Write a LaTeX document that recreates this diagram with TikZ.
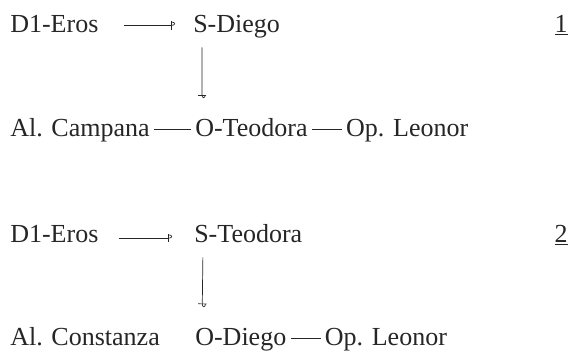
\documentclass[tikz,border=0pt]{standalone}
\usepackage{fontspec}
\setmainfont{Liberation Serif}
\usetikzlibrary{arrows.meta,positioning}

\tikzset{
  hk/.style={line width=0.5pt, draw=black!85,
    -{Bar[width=6pt,sep=0pt]Hooks[harpoon,length=2pt,width=5pt]}},
  emdash/.style={line width=0.9pt, draw=black!85, shorten <=0.1cm, shorten >=0.1cm}
}

\begin{document}
\begin{tikzpicture}[x=0.025cm,y=-0.025cm]
		\tikzset{every node/.style={inner sep=0pt, anchor=base west, text height=14pt, text depth=4.5pt, font=\fontsize{18.5}{22}\selectfont, text=black!85}}
\useasboundingbox (0,0) rectangle (570,350);

% first diagram
\node (d1) at (10,32) {D1-Eros};
\node (s1) at (193,32) {S-Diego};
\node[anchor=base east] (n1) at (568,32) {\underline{1}};
\node (a1) at (10,136) {Al. Campana};
\node (o1) at (195,136) {O-Teodora};
\node[right=0.95cm of o1] (p1) {Op. Leonor};

% second diagram
\node (d2) at (10,242) {D1-Eros};
\node (s2) at (194,242) {S-Teodora};
\node[anchor=base east] (n2) at (568,242) {\underline{2}};
\node (a2) at (10,345) {Al. Constanza};
\node (o2) at (195,345) {O-Diego};
\node[right=0.95cm of o2] (p2) {Op. Leonor};

\draw[hk, shorten <=0.62cm, shorten >=0.45cm] (d1.east) -- (s1.west);
\draw[hk, shorten <=0.5cm, shorten >=0.55cm] ([yshift=-2pt]d2.east) -- ([yshift=-2pt]s2.west);

\foreach \top/\bot in {s1/o1,s2/o2}
{
	\draw[hk, shorten <=0.22cm, shorten >=0.45cm] ([xshift=0.225cm]\top.south west) -- ([xshift=0.175cm]\bot.north west);
}

\foreach \from/\to in {a1/o1,o1/p1,o2/p2}
{
	\draw[emdash] (\from) -- (\to);
}

		\end{tikzpicture}
\end{document}
